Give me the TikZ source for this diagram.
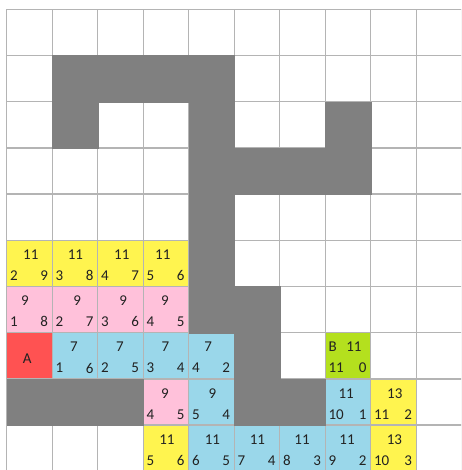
\documentclass[tikz,border=0pt]{standalone}
\usepackage{fontspec}
\setmainfont{Carlito}
\definecolor{cyellow}{HTML}{FFF44F}
\definecolor{cpink}{HTML}{FFC1DA}
\definecolor{cblue}{HTML}{9AD7EA}
\definecolor{cred}{HTML}{FF5252}
\definecolor{cgreen}{HTML}{B4E01E}
\definecolor{cwall}{HTML}{808080}
\definecolor{cgrid}{HTML}{B4B4B4}
\definecolor{ctext}{HTML}{222222}
\tikzset{
  every picture/.style={font=\fontsize{15pt}{17pt}\selectfont},
  gridline/.style={draw=cgrid, line width=1.3pt},
  wall/.style={fill=cwall, draw=cwall, line width=0.2pt},
  num/.style={inner sep=0pt, text=ctext},
  numleft/.style={num, anchor=west},
  numright/.style={num, anchor=east},
}
\begin{document}
\begin{tikzpicture}[x=45.5pt, y=-46.2pt]
  \useasboundingbox (-6.7pt,9.3pt) rectangle (454.3pt,-460.7pt);
  \clip (-6.7pt,9.3pt) rectangle (454.3pt,-460.7pt);
  \fill[white] (-6.7pt,9.3pt) rectangle (454.3pt,-460.7pt);

  % scored cells: column/row/colour/top/left/right/shift of top number
  \foreach \c/\r/\col/\top/\lft/\rgt/\dx in {
      0/5/cyellow/11/2/9/0.03, 1/5/cyellow/11/3/8/0.01, 2/5/cyellow/11/4/7/0.03, 3/5/cyellow/11/5/6/-0.07,
      0/6/cpink/9/1/8/-0.10, 1/6/cpink/9/2/7/0.05, 2/6/cpink/9/3/6/0.06, 3/6/cpink/9/4/5/-0.02,
      1/7/cblue/7/1/6/-0.02, 2/7/cblue/7/2/5/-0.01, 3/7/cblue/7/3/4/-0.01, 4/7/cblue/7/4/2/-0.07,
      3/8/cpink/9/4/5/-0.02, 4/8/cblue/9/5/4/0.02, 7/8/cblue/11/10/1/-0.04, 8/8/cyellow/13/11/2/0.03,
      3/9/cyellow/11/5/6/0.02, 4/9/cblue/11/6/5/0.02, 5/9/cblue/11/7/4/0.01,
      6/9/cblue/11/8/3/-0.01, 7/9/cblue/11/9/2/-0.02, 8/9/cyellow/13/10/3/0.02} {
    \fill[\col] (\c,\r) rectangle ++(1,1);
    \node[num] (t-\c-\r) at (\c+0.5+\dx,\r+0.31) {\top};
    \node[numleft] (l-\c-\r) at (\c+0.07,\r+0.765) {\lft};
    \node[numright] (r-\c-\r) at (\c+0.91,\r+0.765) {\rgt};
  }

  % start and goal
  \fill[cred] (0,7) rectangle ++(1,1);
  \node[num] (start) at (0.45,7.57) {A};
  \fill[cgreen] (7,7) rectangle ++(1,1);
  \node[numleft] (goal) at (7.07,7.31) {B};
  \node[num] (goal-f) at (7.63,7.31) {11};
  \node[numleft] (goal-g) at (7.07,7.765) {11};
  \node[numright] (goal-h) at (7.91,7.765) {0};

  % grid
  \foreach \i in {0,...,10} {
    \draw[gridline] (\i,0) -- (\i,10);
    \draw[gridline] (0,\i) -- (10,\i);
  }

  % walls
  \foreach \c/\r in {1/1, 2/1, 3/1, 4/1, 1/2, 4/2, 7/2, 4/3, 5/3, 6/3, 7/3, 4/4,
      4/5, 4/6, 5/6, 5/7, 0/8, 1/8, 2/8, 5/8, 6/8}
    \filldraw[wall] (\c,\r) rectangle ++(1,1);
\end{tikzpicture}
\end{document}
